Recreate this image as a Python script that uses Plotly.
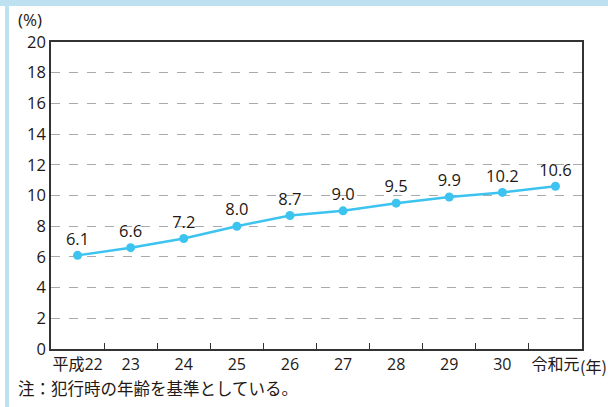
import plotly.graph_objects as go

categories = ["平成22", "23", "24", "25", "26", "27", "28", "29", "30", "令和元"]
values = [6.1, 6.6, 7.2, 8.0, 8.7, 9.0, 9.5, 9.9, 10.2, 10.6]
value_labels = ["6.1", "6.6", "7.2", "8.0", "8.7", "9.0", "9.5", "9.9", "10.2", "10.6"]
y_ticks = [0, 2, 4, 6, 8, 10, 12, 14, 16, 18, 20]

FONT = "Open Sans, Noto Sans CJK JP"
JFONT = "Noto Sans CJK JP"
TXT = "#231815"
LINE = "#3CC3EF"

fig = go.Figure()
fig.add_trace(go.Scatter(
    x=categories, y=values, mode="lines+markers+text",
    text=value_labels, textposition="top center",
    textfont=dict(family=FONT, size=16.5, color=TXT),
    line=dict(color=LINE, width=2.5),
    marker=dict(color=LINE, size=9),
    cliponaxis=False, showlegend=False,
))

fig.update_layout(
    width=608, height=407,
    margin=dict(l=51, r=26, t=42, b=58),
    paper_bgcolor="white", plot_bgcolor="white",
    font=dict(family=FONT, color=TXT),
    xaxis=dict(
        type="category", tickson="boundaries", ticks="inside", ticklen=6,
        tickcolor="#333", showgrid=False, showline=True, linecolor="#333",
        linewidth=1.5, mirror=True, tickangle=0,
        tickfont=dict(family=FONT, size=16, color=TXT),
        range=[-0.5, 9.5],
    ),
    yaxis=dict(
        range=[0, 20], tickvals=y_ticks, showgrid=True, gridcolor="#aaaaaa",
        griddash="dash", gridwidth=1, showline=True, linecolor="#333",
        linewidth=1.5, mirror=True, ticks="", zeroline=False,
        tickfont=dict(family=FONT, size=16.5, color=TXT),
    ),
    shapes=[
        dict(type="rect", xref="paper", yref="paper", x0=-51/531, x1=557/531,
             y0=(307+36)/307, y1=(307+42)/307, fillcolor="#BEE1F1",
             line=dict(width=0), layer="below"),
        dict(type="rect", xref="paper", yref="paper", x0=-46/531, x1=-42/531,
             y0=-58/307, y1=(307+42)/307, fillcolor="#BEE1F1",
             line=dict(width=0), layer="below"),
    ],
    annotations=[
        dict(text="(%)", xref="paper", yref="paper", x=-35/531, y=(307+22)/307,
             xanchor="left", yanchor="middle", showarrow=False,
             font=dict(family=FONT, size=17, color=TXT)),
        dict(text="(年)", xref="paper", yref="paper", x=(578-51)/531, y=-17/307,
             xanchor="left", yanchor="middle", showarrow=False,
             font=dict(family=JFONT, size=16, color=TXT)),
        dict(text="注：犯行時の年齢を基準としている。", xref="paper", yref="paper",
             x=-35/531, y=-39/307, xanchor="left", yanchor="middle", showarrow=False,
             font=dict(family=JFONT, size=16.5, color=TXT)),
    ],
)

fig.write_html("out.html")
